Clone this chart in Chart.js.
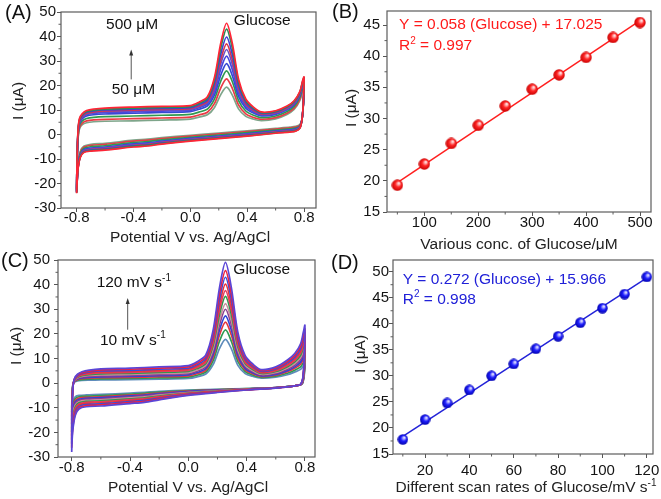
<!DOCTYPE html>
<html>
<head>
<meta charset="utf-8">
<title>Glucose CV</title>
<script src="https://cdn.jsdelivr.net/npm/chart.js@4.4.1/dist/chart.umd.min.js"></script>
<style>
  html, body { margin: 0; padding: 0; background: #fff; }
  #wrap { position: relative; width: 661px; height: 499px; overflow: hidden; background: #fff; }
  #wrap canvas { position: absolute; }
</style>
</head>
<body>
<div id="wrap">
  <canvas id="chartA" width="330" height="250" style="left:0;top:0"></canvas>
  <canvas id="chartB" width="331" height="250" style="left:330px;top:0"></canvas>
  <canvas id="chartC" width="330" height="249" style="left:0;top:250px"></canvas>
  <canvas id="chartD" width="331" height="249" style="left:330px;top:250px"></canvas>
</div>
<script>
// ---------- data ----------

// (A)/(B) glucose concentration series, peak current at ~0.25 V
const glucoseConc = [50, 100, 150, 200, 250, 300, 350, 400, 450, 500];
const peakByConc = [19.3, 22.7, 26.0, 28.9, 32.0, 34.7, 37.0, 39.8, 43.0, 45.4];
// where each CV sits inside the background band (0 = lowest, 1 = outermost)
const bandPosConc = [0, 0.15, 0.35, 0.55, 0.65, 0.72, 0.78, 0.85, 0.92, 1];
const colorsConc = ['#7ea58a', '#ea3a45', '#2f9950', '#3648d2', '#4747df', '#6a4fc4', '#d8344d', '#3b3fd6', '#2c8c55', '#ff2436'];

// (C)/(D) scan rate series
const scanRate = [10, 20, 30, 40, 50, 60, 70, 80, 90, 100, 110, 120];
const peakByScan = [17.8, 21.6, 24.8, 27.3, 30.0, 32.3, 35.2, 37.6, 40.2, 43.0, 45.7, 49.0];
const bandPosScan = [0, 0.1, 0.2, 0.28, 0.37, 0.46, 0.55, 0.63, 0.72, 0.81, 0.9, 1];
const colorsScan = ['#5f8cbc', '#2f9a52', '#e3363f', '#2f43d6', '#8b3d8f', '#c78f9b', '#2a9a4c', '#e23c60', '#ea3238', '#3b4bd8', '#ea2240', '#5b45d6'];

// potential grids of the forward (anodic) and reverse sweeps, V
const fwdV = [-0.800, -0.797, -0.790, -0.780, -0.760, -0.730, -0.680, -0.600, -0.400, -0.200, 0.000, 0.060, 0.120, 0.170, 0.215, 0.255, 0.295, 0.340, 0.390, 0.440, 0.500, 0.600, 0.680, 0.730, 0.770, 0.790, 0.800];
const revV = [0.800, 0.795, 0.785, 0.770, 0.740, 0.700, 0.600, 0.400, 0.200, 0.000, -0.200, -0.300, -0.400, -0.600, -0.700, -0.750, -0.775, -0.790, -0.797, -0.800];
// glucose oxidation peak profile on the forward grid (fraction of peak height)
const peakShape = [0, 0, 0, 0, 0, 0, 0, 0, 0, 0, 0, 0.03, 0.09, 0.33, 0.76, 1, 0.76, 0.33, 0.12, 0.05, 0, 0, 0, 0, 0, 0, 0];

// panel A: lowest background curve and band width (outer - lowest), uA
const fwdBaseA = [-22, -12, -2, 2.2, 4.0, 4.8, 5.2, 5.4, 5.6, 5.9, 6.3, 6.7, 6.9, 6.9, 6.8, 6.7, 6.5, 6.2, 5.9, 5.7, 5.7, 6.4, 8.2, 10.2, 13.8, 17.8, 20.5];
const fwdBandA = [-2, 2, 3.8, 4.3, 4.5, 5.0, 5.2, 5.4, 5.6, 5.6, 5.5, 5.5, 5.5, 5.5, 5.5, 5.5, 5.5, 5.2, 4.6, 4.0, 3.5, 3.3, 3.4, 3.6, 3.7, 4.2, 3.0];
const revBaseA = [20.5, 12, 6, 4, 3.3, 3.0, 2.5, 1.5, 0.6, -0.3, -1.3, -1.9, -2.3, -3.6, -4.0, -4.8, -7, -12, -18, -22];
const revBandA = [3.0, 1, 0, -1.5, -2, -2, -2, -2.2, -2.3, -2.4, -2.6, -2.8, -2.8, -2.8, -2.8, -2.6, -2.5, -2, -2, -2];

// panel C: slowest scan curve and spread to the fastest one, uA
const fwdBaseC = [-10, -3, 0, 0.5, 0.9, 1.1, 1.2, 1.3, 1.4, 1.6, 1.9, 2.1, 2.3, 2.4, 2.4, 2.3, 2.2, 2.1, 2.0, 2.0, 2.0, 2.4, 3.4, 4.5, 5.6, 7.0, 8.0];
const fwdBandC = [-18, -7, -1, 1.5, 2.7, 3.5, 4.1, 4.5, 4.7, 5.0, 5.2, 5.3, 5.4, 5.4, 5.3, 5.3, 5.2, 4.8, 4.2, 3.8, 3.5, 4.2, 6.0, 7.5, 10.4, 14, 15.5];
const revBaseC = [8, 3, 0, -0.7, -1.0, -1.3, -1.8, -2.2, -2.5, -2.8, -3.3, -3.7, -4.0, -4.6, -4.8, -5.0, -5.5, -7, -8.5, -10];
const revBandC = [15.5, 7, 2, 0.2, 0, -0.1, -0.2, -0.6, -1.3, -2.2, -3.5, -4.1, -4.3, -4.7, -4.8, -5.5, -7.5, -11, -14.5, -18];

// fitted lines as drawn (end points)
const fitXB = [50, 500];
const fitYB = [19.7, 45.7];
const fitXD = [10, 120];
const fitYD = [18.4, 48.8];

// tick labels
const ticksPotential = [-0.8, -0.4, 0.0, 0.4, 0.8];
const ticksCurrentCV = [-30, -20, -10, 0, 10, 20, 30, 40, 50];
const minorPotential = [-0.6, -0.2, 0.2, 0.6];
const minorCurrentCV = [-25, -15, -5, 5, 15, 25, 35, 45];
const ticksConcB = [100, 200, 300, 400, 500];
const ticksCurrB = [15, 20, 25, 30, 35, 40, 45];
const minorConcB = [50, 150, 250, 350, 450];
const minorCurrB = [17.5, 22.5, 27.5, 32.5, 37.5, 42.5];
const ticksScanD = [20, 40, 60, 80, 100, 120];
const ticksCurrD = [15, 20, 25, 30, 35, 40, 45, 50];
const minorScanD = [10, 30, 50, 70, 90, 110];
const minorCurrD = [17.5, 22.5, 27.5, 32.5, 37.5, 42.5, 47.5];

// ---------- helpers ----------
const FONT = "'Liberation Sans', Arial, Helvetica, sans-serif";
const TEXT_SIZE = 15.5;

function cvDatasets(fb, fs, rb, rs, peaks, weights, colors) {
    const iPeak = fwdV.indexOf(0.255);
    const sets = peaks.map((p, k) => {
        const w = weights[k];
        const h = p - (fb[iPeak] + w * fs[iPeak]);
        const pts = fwdV.map((v, i) => ({ x: v, y: fb[i] + w * fs[i] + h * peakShape[i] }));
        revV.forEach((v, i) => { if (i > 0) pts.push({ x: v, y: rb[i] + w * rs[i] }); });
        return { data: pts, showLine: true, borderColor: colors[k], borderWidth: 1.7, tension: 0.3, pointRadius: 0 };
    });
    return sets.reverse(); // highest drawn on top
}

function axis(min, max, ticks, fmt, size, isX, pad) {
    return {
        type: 'linear', min: min, max: max,
        afterBuildTicks: s => { s.ticks = ticks.map(v => ({ value: v })); },
        afterFit: s => {
            if (isX) s.height = size; else s.width = size;
            s.paddingLeft = 0; s.paddingRight = 0; s.paddingTop = 0; s.paddingBottom = 0;
        },
        grid: { drawOnChartArea: false, tickLength: 4, tickColor: '#555', tickWidth: 1 },
        border: { display: false },
        ticks: {
            autoSkip: false, maxRotation: 0, padding: pad, color: '#141414',
            font: { family: FONT, size: 15, lineHeight: isX ? 0.8 : 1.2 },
            callback: fmt
        }
    };
}

function richText(ctx, parts, x, y, align) {
    let total = 0;
    parts.forEach(p => {
        ctx.font = (p[1] ? '10px ' : TEXT_SIZE + 'px ') + FONT;
        total += ctx.measureText(p[0]).width;
    });
    let cx = align === 'center' ? x - total / 2 : x;
    ctx.textAlign = 'left';
    ctx.textBaseline = 'middle';
    parts.forEach(p => {
        ctx.font = (p[1] ? '10px ' : TEXT_SIZE + 'px ') + FONT;
        ctx.fillText(p[0], cx, p[1] ? y - 5 : y);
        cx += ctx.measureText(p[0]).width;
    });
}

function deco(o) {
    return {
        id: 'deco',
        afterDraw(chart) {
            const { ctx, chartArea: a } = chart;
            const sx = chart.scales.x, sy = chart.scales.y;
            ctx.save();
            ctx.strokeStyle = '#5c5c5c';
            ctx.lineWidth = 1.2;
            ctx.strokeRect(a.left, a.top, a.right - a.left, a.bottom - a.top);
            ctx.lineWidth = 1;
            ctx.beginPath();
            o.minorX.forEach(v => { const p = sx.getPixelForValue(v); ctx.moveTo(p, a.bottom); ctx.lineTo(p, a.bottom + 2.5); });
            o.minorY.forEach(v => { const p = sy.getPixelForValue(v); ctx.moveTo(a.left, p); ctx.lineTo(a.left - 2.5, p); });
            ctx.stroke();

            // panel letter
            ctx.fillStyle = '#111';
            ctx.font = '20px ' + FONT;
            ctx.textAlign = 'left';
            ctx.textBaseline = 'middle';
            ctx.fillText(o.letter, o.letterPos[0], o.letterPos[1]);

            // axis titles
            ctx.fillStyle = '#222';
            richText(ctx, o.xTitle, o.xTitlePos[0], o.xTitlePos[1], 'center');
            ctx.save();
            ctx.translate(o.yTitlePos[0], o.yTitlePos[1]);
            ctx.rotate(-Math.PI / 2);
            richText(ctx, [['I (\u03bcA)']], 0, 0, 'center');
            ctx.restore();

            if (o.extra) o.extra(ctx, sx, sy);
            ctx.restore();
        }
    };
}

function arrowUp(ctx, sx, sy, v, from, to) {
    const x = sx.getPixelForValue(v), y0 = sy.getPixelForValue(from), y1 = sy.getPixelForValue(to);
    ctx.strokeStyle = '#555';
    ctx.fillStyle = '#333';
    ctx.lineWidth = 1;
    ctx.beginPath(); ctx.moveTo(x, y0); ctx.lineTo(x, y1 + 4); ctx.stroke();
    ctx.beginPath(); ctx.moveTo(x, y1); ctx.lineTo(x - 2, y1 + 6); ctx.lineTo(x + 2, y1 + 6); ctx.closePath(); ctx.fill();
}

function makeBall(size, light, mid, dark) {
    const c = document.createElement('canvas');
    c.width = c.height = size;
    const g = c.getContext('2d');
    const r = size / 2;
    const grad = g.createRadialGradient(r * 1.3, r * 0.62, 0, r, r, r);
    grad.addColorStop(0, '#ffffff');
    grad.addColorStop(0.2, light);
    grad.addColorStop(0.5, mid);
    grad.addColorStop(1, dark);
    g.fillStyle = grad;
    g.beginPath();
    g.arc(r, r, r - 0.3, 0, Math.PI * 2);
    g.fill();
    return c;
}

function baseOptions(padTop, padRight, scales) {
    return {
        responsive: false,
        animation: false,
        events: [],
        layout: { padding: { top: padTop, right: padRight, left: 0, bottom: 0 } },
        plugins: { legend: { display: false }, tooltip: { enabled: false } },
        scales: scales
    };
}

const fmt1 = v => Number(v).toFixed(1);
const fmt0 = v => String(v);

// ---------- (A) CVs vs. concentration ----------
new Chart(document.getElementById('chartA'), {
    type: 'scatter',
    data: { datasets: cvDatasets(fwdBaseA, fwdBandA, revBaseA, revBandA, peakByConc, bandPosConc, colorsConc) },
    options: baseOptions(12, 14, {
        x: axis(-0.910, 0.884, ticksPotential, fmt1, 42, true, 0),
        y: axis(-30, 50, ticksCurrentCV, fmt0, 61, false, 1)
    }),
    plugins: [deco({
        minorX: minorPotential, minorY: minorCurrentCV,
        letter: '(A)', letterPos: [5, 13],
        xTitle: [['Potential V vs. Ag/AgCl']], xTitlePos: [190, 238],
        yTitlePos: [19, 101],
        extra: (ctx, sx, sy) => {
            ctx.fillStyle = '#111';
            richText(ctx, [['500 \u03bcM']], sx.getPixelForValue(-0.593), sy.getPixelForValue(44.8), 'left');
            richText(ctx, [['50 \u03bcM']], sx.getPixelForValue(-0.553), sy.getPixelForValue(18.4), 'left');
            richText(ctx, [['Glucose']], sx.getPixelForValue(0.306), sy.getPixelForValue(46.6), 'left');
            arrowUp(ctx, sx, sy, -0.416, 22.5, 34.7);
        }
    })]
});

// ---------- (B) peak current vs. concentration ----------
new Chart(document.getElementById('chartB'), {
    type: 'scatter',
    data: {
        datasets: [
            { data: glucoseConc.map((x, i) => ({ x: x, y: peakByConc[i] })), pointStyle: makeBall(12, '#ffb4b4', '#ff2424', '#c40000'), pointRadius: 6 },
            { data: fitXB.map((x, i) => ({ x: x, y: fitYB[i] })), showLine: true, borderColor: '#ff1f1f', borderWidth: 1.5, pointRadius: 0 }
        ]
    },
    options: baseOptions(11, 10, {
        x: axis(30.8, 520.4, ticksConcB, fmt0, 38, true, 1),
        y: axis(15, 47.25, ticksCurrB, fmt0, 57, false, 3)
    }),
    plugins: [deco({
        minorX: minorConcB, minorY: minorCurrB,
        letter: '(B)', letterPos: [2, 12],
        xTitle: [['Various conc. of Glucose/\u03bcM']], xTitlePos: [189, 245],
        yTitlePos: [21.7, 108],
        extra: (ctx, sx, sy) => {
            ctx.fillStyle = '#ff1a1a';
            richText(ctx, [['Y = 0.058 (Glucose) + 17.025']], sx.getPixelForValue(53.1), sy.getPixelForValue(45.0), 'left');
            richText(ctx, [['R'], ['2', true], [' = 0.997']], sx.getPixelForValue(53.1), sy.getPixelForValue(41.6), 'left');
        }
    })]
});

// ---------- (C) CVs vs. scan rate ----------
new Chart(document.getElementById('chartC'), {
    type: 'scatter',
    data: { datasets: cvDatasets(fwdBaseC, fwdBandC, revBaseC, revBandC, peakByScan, bandPosScan, colorsScan) },
    options: baseOptions(10, 15, {
        x: axis(-0.894, 0.869, ticksPotential, fmt1, 42, true, 1),
        y: axis(-30, 50, ticksCurrentCV, fmt0, 58, false, 4)
    }),
    plugins: [deco({
        minorX: minorPotential, minorY: minorCurrentCV,
        letter: '(C)', letterPos: [1, 11],
        xTitle: [['Potential V vs. Ag/AgCl']], xTitlePos: [188, 238],
        yTitlePos: [16.7, 96],
        extra: (ctx, sx, sy) => {
            ctx.fillStyle = '#111';
            richText(ctx, [['120 mV s'], ['-1', true]], sx.getPixelForValue(-0.629), sy.getPixelForValue(40.7), 'left');
            richText(ctx, [['10 mV s'], ['-1', true]], sx.getPixelForValue(-0.606), sy.getPixelForValue(17.3), 'left');
            richText(ctx, [['Glucose']], sx.getPixelForValue(0.309), sy.getPixelForValue(45.9), 'left');
            arrowUp(ctx, sx, sy, -0.416, 21.7, 34.6);
        }
    })]
});

// ---------- (D) peak current vs. scan rate ----------
new Chart(document.getElementById('chartD'), {
    type: 'scatter',
    data: {
        datasets: [
            { data: scanRate.map((x, i) => ({ x: x, y: peakByScan[i] })), pointStyle: makeBall(11, '#b8b8ff', '#1e1eff', '#0000a8'), pointRadius: 5.5 },
            { data: fitXD.map((x, i) => ({ x: x, y: fitYD[i] })), showLine: true, borderColor: '#2323d8', borderWidth: 1.5, pointRadius: 0 }
        ]
    },
    options: baseOptions(10, 8, {
        x: axis(5.57, 122.8, ticksScanD, fmt0, 45, true, 6.5),
        y: axis(15, 52.24, ticksCurrD, fmt0, 63, false, 0)
    }),
    plugins: [deco({
        minorX: minorScanD, minorY: minorCurrD,
        letter: '(D)', letterPos: [1, 13],
        xTitle: [['Different scan rates of Glucose/mV s'], ['-1', true]], xTitlePos: [196, 238],
        yTitlePos: [30.7, 104],
        extra: (ctx, sx, sy) => {
            ctx.fillStyle = '#2020d8';
            richText(ctx, [['Y = 0.272 (Glucose) + 15.966']], sx.getPixelForValue(9.95), sy.getPixelForValue(48.4), 'left');
            richText(ctx, [['R'], ['2', true], [' = 0.998']], sx.getPixelForValue(9.95), sy.getPixelForValue(44.7), 'left');
        }
    })]
});
</script>
</body>
</html>
